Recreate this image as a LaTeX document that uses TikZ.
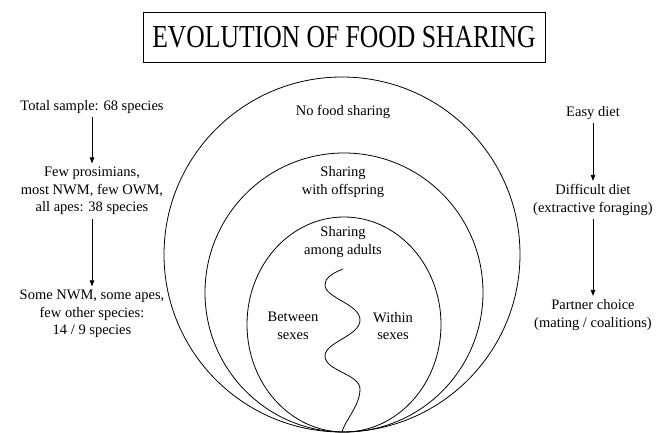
\documentclass[tikz,border=0pt]{standalone}
\usepackage{fontspec}
\setmainfont{Liberation Serif}
\usetikzlibrary{arrows.meta}
\tikzstyle{txt}=[align=center,font=\fontsize{14.5}{17.5}\selectfont]
\tikzstyle{flow}=[-{Triangle[length=6pt,width=4.5pt]},line width=0.8pt]
\tikzstyle{titlebox}=[draw,line width=0.8pt,minimum width=402pt,minimum height=50pt,font=\fontsize{32}{36}\selectfont]

\begin{document}
\begin{tikzpicture}[x=1pt, y=-1pt, line width=0.8pt]
    \useasboundingbox (0,0) rectangle (664,433);
    \node[titlebox] (title) at (344,37) {\scalebox{0.8}[1]{EVOLUTION OF FOOD SHARING}};
    % nested sharing regions
    \foreach \cx/\cy/\rx/\ry in {342/254.5/178/177.5, 344/292.5/139/139.5, 344/324.5/97/107.5} {
        \draw (\cx,\cy) ellipse [x radius=\rx, y radius=\ry];
    };
    \node[txt] (nofood) at (343,112) {No food sharing};
    \node[txt] (offspring) at (343,182) {Sharing\\with offspring};
    \node[txt] (adults) at (343,242) {Sharing\\among adults};
    \node[txt] (between) at (293,326) {Between\\sexes};
    \node[txt] (within) at (393,326) {Within\\sexes};
    \coordinate (wtop) at (343,269);
    \coordinate (wbot) at (342,432);
    \draw (wtop) .. controls (330,274) and (325,279) .. (325,285)
        .. controls (325,298) and (360,304) .. (360,320)
        .. controls (360,336) and (325,342) .. (325,356)
        .. controls (325,371) and (360,374) .. (360,389)
        .. controls (360,406) and (345,420) .. (wbot);
    % species
    \node[txt] (total) at (92,107) {Total sample: 68 species};
    \node[txt] (few) at (92,191) {Few prosimians,\\most NWM, few OWM,\\all apes: 38 species};
    \node[txt] (some) at (92,314) {Some NWM, some apes,\\few other species:\\14 / 9 species};
    \draw[flow] (total) -- (few);
    \draw[flow] (few) -- (some);
    % diet
    \node[txt] (easy) at (593,113) {Easy diet};
    \node[txt] (difficult) at (593,200) {Difficult diet\\(extractive foraging)};
    \node[txt] (partner) at (593,315) {Partner choice\\(mating / coalitions)};
    \draw[flow] (easy) -- (difficult);
    \draw[flow] (difficult) -- (partner);
\end{tikzpicture}
\end{document}
